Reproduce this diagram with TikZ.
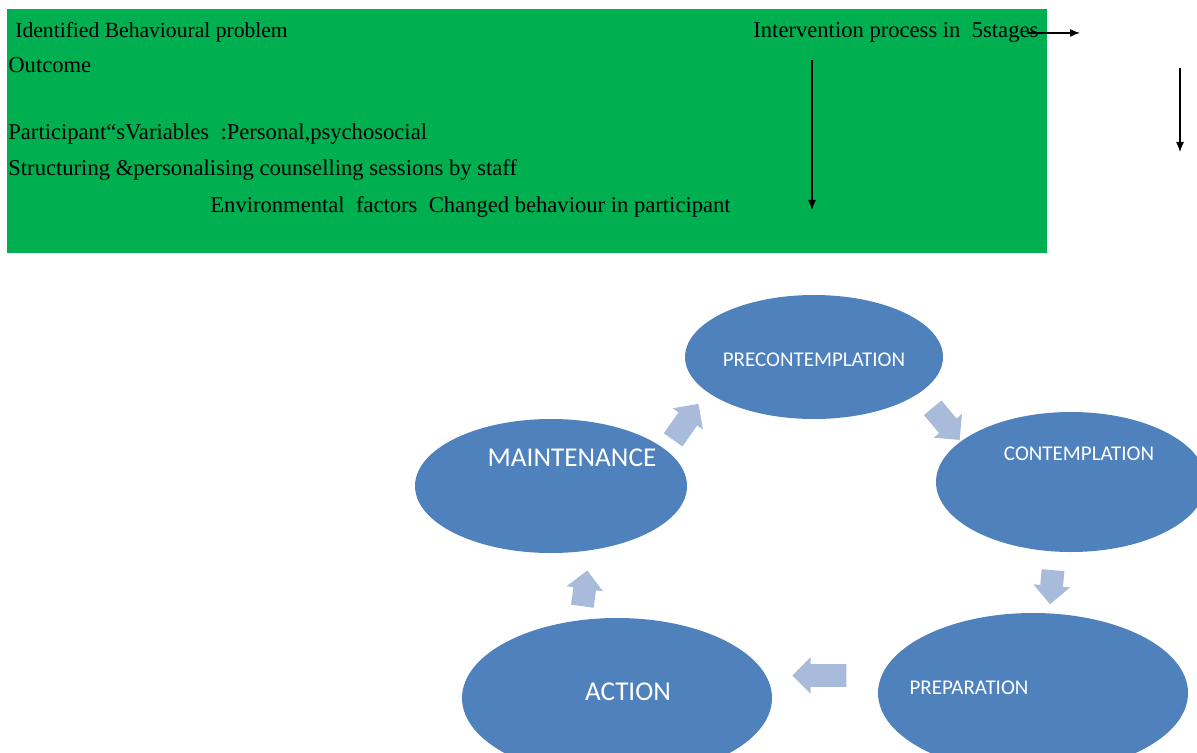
\documentclass[tikz,border=0pt]{standalone}
\usepackage{fontspec}
\setmainfont{Liberation Serif}
\newfontfamily\stagefont{Carlito}
\usetikzlibrary{shapes.geometric,shapes.arrows,calc,arrows.meta}
\definecolor{boxgreen}{HTML}{00B050}
\definecolor{stageblue}{HTML}{4F81BD}
\definecolor{cycleblue}{HTML}{A9BBDA}

\begin{document}
\begin{tikzpicture}[
	  x=0.5pt,y=-0.5pt,
	  textline/.style={anchor=base west,inner sep=0pt,font=\fontsize{11.3}{13}\selectfont},
	  flow/.style={-{Latex[length=5pt,width=4pt]},semithick},
	  stage/.style={ellipse,fill=stageblue,inner sep=0pt},
	  stagetext/.style={text=white,inner sep=0pt,font=\stagefont\fontsize{10.5}{12}\selectfont},
	  bigstagetext/.style={stagetext,font=\stagefont\fontsize{13.6}{15}\selectfont},
	  cycle/.style={single arrow,fill=cycleblue,inner sep=5.5pt,single arrow head extend=3.5pt}
	]
		\useasboundingbox (0,0) rectangle (1197,753);
		\fill[boxgreen] (7,9) rectangle (1047,253);

		\node [textline,font=\fontsize{10.8}{12}\selectfont] (problem) at (15,38) {Identified Behavioural problem};
		\node [textline] (outcome) at (8,73) {Outcome};
		\node [textline] (vars) at (8,140) {Participant“sVariables\ \ :Personal,psychosocial};
		\node [textline] (staff) at (8,176) {Structuring \&personalising\ counselling\ sessions by staff};
		\node [textline] (env) at (210,213) {Environmental\ \ factors\ \ Changed behaviour in participant};
		\node [textline] (interv) at (753,38) {Intervention process in\ \ 5stages};

		\coordinate (intervend) at (1080,32);
		\coordinate (greentop) at (812,60);
		\coordinate (greenend) at (812,210);
		\coordinate (sidetop) at (1180,68);
		\coordinate (sideend) at (1180,152);
		\draw [flow] ([xshift=-6pt]interv.east) -- (interv.east -| intervend);
		\draw [flow] (greentop) -- (greenend);
		\draw [flow] (sidetop) -- (sideend);

		\node [stage,minimum width=129pt,minimum height=62pt] (pre) at (814,357) {};
		\node [stage,minimum width=135pt,minimum height=70pt] (con) at (1071,482) {};
		\node [stage,minimum width=155pt,minimum height=80pt] (prep) at (1033,693) {};
		\node [stage,minimum width=155pt,minimum height=80pt] (act) at (617,698) {};
		\node [stage,minimum width=136pt,minimum height=67pt] (main) at (551,486) {};

		\node [stagetext] (pretxt) at (814,360) {PRECONTEMPLATION};
		\node [stagetext] (contxt) at (1079,454) {CONTEMPLATION};
		\node [stagetext] (preptxt) at (969,688) {PREPARATION};
		\node [bigstagetext] (acttxt) at (628,692) {ACTION};
		\node [bigstagetext] (maintxt) at (572,458) {MAINTENANCE};

		\foreach \from/\to/\ang/\len/\dy in {main/pre/55/22/5,pre/con/-50/21/0,con/prep/-95/16/-6,prep/act/180/27/-20,act/main/82/18/2}
			\node [cycle,rotate=\ang,minimum height=\len pt] (\from-\to) at ($(\from)!0.5!(\to)+(0,\dy)$) {};
	\end{tikzpicture}
\end{document}
